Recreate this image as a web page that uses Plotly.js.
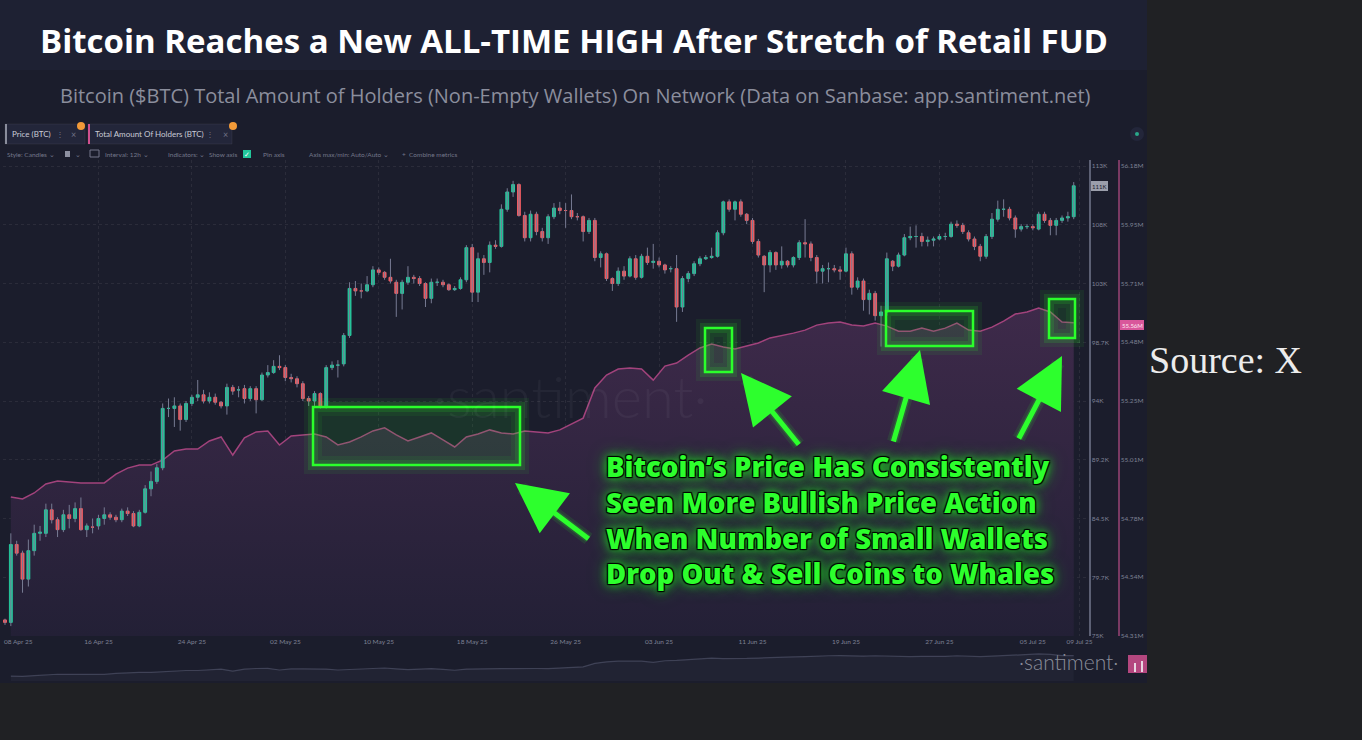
<!DOCTYPE html>
<html><head><meta charset="utf-8">
<script src="https://cdn.plot.ly/plotly-3.0.1.min.js"></script>
<style>html,body{margin:0;padding:0;background:#202124;overflow:hidden}#chart{width:1362px;height:740px}</style>
</head><body><div id="chart"></div>
<script>
// ---------------- DATA ----------------
const candleStart = '2025-04-08T00:00:00Z';   // 12h candles
const priceOpen = [76.3,76.1,82.4,81.7,79.6,81.9,83.3,83.3,85.2,84.4,83.6,84.8,84.5,85.3,83.6,83.8,83.9,84.5,84.8,84.6,84.4,85.1,84.9,83.9,85.0,86.9,87.5,88.6,93.4,93.4,93.6,92.5,93.8,94.3,94.5,94.0,94.3,93.9,93.6,95.1,94.9,95.0,94.2,95.0,94.1,96.1,96.3,96.8,96.7,95.9,95.8,95.4,94.2,94.0,94.6,93.6,96.7,96.9,97.0,99.3,103.1,102.9,102.9,103.4,104.6,104.4,104.0,103.6,102.7,103.6,104.0,103.9,103.5,102.3,103.6,103.6,103.4,103.0,103.1,103.8,106.4,102.8,105.5,105.2,106.6,106.5,109.5,110.9,111.5,109.0,107.2,109.1,107.7,107.2,108.9,109.6,109.4,109.4,108.9,108.9,107.7,108.6,105.6,105.9,103.9,103.5,104.5,104.1,105.5,104.0,105.7,105.2,105.3,105.0,104.7,104.7,101.6,103.9,104.3,105.1,105.5,105.6,105.7,107.6,110.1,109.5,110.1,109.1,108.6,106.9,105.7,105.0,106.0,105.0,105.3,105.0,105.6,106.8,106.7,105.6,104.5,104.7,104.7,104.6,104.5,105.9,103.2,103.7,102.2,102.7,100.9,101.2,105.3,104.9,105.8,107.2,107.3,107.3,106.9,107.0,107.1,107.3,107.3,108.3,108.2,107.6,107.1,106.5,105.7,107.3,108.7,109.5,109.5,108.8,107.9,108.1,108.1,107.9,109.1,108.6,108.2,108.6,108.8,108.9];
const priceHigh = [76.4,83.3,82.7,81.9,82.8,84.0,83.9,85.7,85.7,84.6,85.2,85.6,85.8,86.2,84.1,84.5,84.8,85.4,85.0,84.8,85.3,85.4,85.1,85.2,87.2,88.3,88.9,93.8,94.2,94.3,93.8,94.0,94.5,95.7,94.9,94.7,94.6,94.0,95.4,95.3,95.2,95.3,95.2,95.2,96.3,96.9,97.3,97.7,96.9,96.2,96.0,95.6,94.4,94.8,94.7,96.9,97.2,97.3,99.5,103.6,103.7,103.5,104.1,104.9,104.8,104.5,105.5,103.8,103.8,104.9,104.2,104.1,103.6,103.9,103.9,103.8,103.5,103.3,104.0,106.6,106.7,106.0,105.8,106.9,107.0,109.9,111.2,111.8,111.6,109.3,109.4,109.3,108.0,109.1,110.0,110.1,110.0,110.7,109.2,109.0,108.8,108.8,106.1,106.0,104.0,104.8,104.9,105.7,105.8,105.9,106.4,106.7,105.6,105.1,104.9,105.8,104.1,104.5,105.3,105.7,105.8,106.4,107.8,110.2,110.3,110.2,110.3,109.2,108.8,107.1,105.8,106.2,106.1,106.5,105.4,105.7,107.0,108.7,106.9,105.8,105.0,105.2,105.0,104.9,106.4,106.1,104.0,103.9,103.0,102.9,101.7,106.0,105.4,106.0,107.5,108.1,108.2,107.6,107.3,107.3,107.5,107.6,108.5,108.6,108.4,107.8,107.3,106.7,107.5,109.2,110.2,110.3,109.7,109.0,108.3,108.3,108.3,109.3,109.3,108.8,108.8,109.0,109.3,111.7];
const priceLow = [75.9,75.8,81.5,78.5,79.0,81.5,82.7,83.0,84.1,83.0,83.4,83.7,84.2,83.5,83.0,83.3,83.6,84.0,84.4,84.2,84.2,84.7,83.8,83.8,84.9,86.3,87.3,88.4,92.7,91.9,91.6,92.3,93.6,94.0,93.8,93.8,93.7,93.4,92.9,94.5,94.3,93.8,94.0,93.0,94.0,95.9,96.2,96.5,95.6,95.5,95.1,94.0,93.6,93.6,93.4,93.4,96.5,95.9,96.8,99.1,102.5,102.3,102.8,103.2,104.2,103.8,103.5,100.8,101.4,103.4,103.5,103.3,101.6,101.9,103.3,103.2,102.9,102.9,103.0,103.6,102.0,102.0,104.2,104.4,106.3,106.4,109.3,110.5,108.9,106.9,106.9,107.4,106.9,106.7,108.7,109.1,108.0,108.7,108.6,106.9,107.5,105.3,104.8,103.7,102.9,103.3,103.8,104.0,103.8,103.9,105.0,104.7,104.8,104.3,104.4,100.4,101.2,103.6,104.1,104.9,105.4,105.5,105.6,107.4,109.3,108.6,108.9,108.3,106.7,105.6,102.8,104.4,104.6,104.7,104.8,104.8,105.4,105.6,105.3,103.5,103.5,103.6,104.4,103.8,104.4,102.6,103.0,101.3,101.0,100.5,98.4,100.9,104.5,104.8,105.7,107.0,106.4,106.5,106.5,106.5,107.0,107.0,107.2,108.0,107.5,106.9,106.2,105.3,105.5,107.1,108.5,108.9,108.6,107.2,107.7,107.9,107.8,107.8,108.4,107.4,107.4,108.4,108.5,108.7];
const priceClose = [76.1,82.4,81.7,79.6,81.9,83.3,83.4,85.2,84.4,83.6,84.8,84.5,85.3,83.6,83.9,83.8,84.5,84.8,84.6,84.4,85.1,84.9,83.9,85.0,86.9,87.5,88.6,93.4,93.4,93.6,92.5,93.8,94.3,94.5,94.0,94.3,93.9,93.6,95.1,94.8,94.9,94.2,95.0,94.1,96.1,96.3,96.8,96.7,95.9,95.8,95.4,94.2,94.0,94.6,93.6,96.7,96.9,96.9,99.3,103.1,102.9,102.9,103.4,104.6,104.4,104.0,103.7,102.7,103.6,104.0,103.9,103.5,102.3,103.6,103.6,103.4,103.0,103.1,103.8,106.4,102.8,105.5,105.2,106.6,106.5,109.5,110.9,111.5,109.0,107.2,109.1,107.7,107.2,108.9,109.6,109.4,109.4,108.9,108.9,107.7,108.6,105.6,105.9,103.9,103.5,104.5,104.1,105.5,104.0,105.7,105.2,105.3,105.0,104.6,104.7,101.6,103.9,104.3,105.1,105.5,105.6,105.7,107.6,110.1,109.5,110.1,109.1,108.6,106.9,105.8,105.0,106.0,105.0,105.3,105.0,105.6,106.8,106.7,105.6,104.5,104.7,104.7,104.6,104.5,105.9,103.2,103.7,102.2,102.7,100.9,101.2,105.5,104.9,105.8,107.2,107.3,107.3,106.9,107.0,107.1,107.3,107.3,108.3,108.2,107.7,107.1,106.5,105.7,107.3,108.7,109.5,109.5,108.8,107.9,108.1,108.1,108.0,109.1,108.6,108.2,108.6,108.8,108.9,111.4];

const holdersStart = '2025-04-08T12:00:00Z';  // daily
const holdersM = [54.863,54.855,54.879,54.915,54.927,54.923,54.919,54.919,54.919,54.954,54.978,54.990,54.990,55.010,55.046,55.054,55.054,55.086,55.102,55.030,55.098,55.122,55.126,55.070,55.106,55.110,55.114,55.102,55.070,55.082,55.102,55.126,55.138,55.110,55.086,55.102,55.118,55.090,55.062,55.102,55.114,55.130,55.118,55.114,55.126,55.122,55.118,55.130,55.153,55.177,55.297,55.348,55.372,55.376,55.372,55.328,55.384,55.396,55.428,55.456,55.472,55.460,55.452,55.464,55.476,55.496,55.504,55.515,55.527,55.547,55.555,55.559,55.547,55.543,55.555,55.543,55.523,55.523,55.535,55.523,55.535,55.555,55.527,55.523,55.539,55.563,55.591,55.599,55.615,55.599,55.559,55.556];

const priceTickVals = [75,79.75,84.5,89.25,94,98.75,103.5,108.25,113];
const priceTickText = ['75K','79.7K','84.5K','89.2K','94K','98.7K','103K','108K','113K'];
const holderTickVals = [54.31,54.544,54.778,55.011,55.245,55.479,55.712,55.946,56.18];
const holderTickText = ['54.31M','54.54M','54.78M','55.01M','55.25M','55.48M','55.71M','55.95M','56.18M'];
const dateTickVals = ['2025-04-16','2025-04-24','2025-05-02','2025-05-10','2025-05-18','2025-05-26','2025-06-03','2025-06-11','2025-06-19','2025-06-27','2025-07-05','2025-07-09'];
const dateTickText = ['16 Apr 25','24 Apr 25','02 May 25','10 May 25','18 May 25','26 May 25','03 Jun 25','11 Jun 25','19 Jun 25','27 Jun 25','05 Jul 25','09 Jul 25'];
const firstDateLabel = '08 Apr 25';
const lastPriceLabel = '111K';
const lastHoldersLabel = '55.56M';

// ---------------- HELPERS ----------------
const H12 = 12*3600*1000, DAY = 24*3600*1000;
const fmt = ms => new Date(ms).toISOString().slice(0,19).replace('T',' ');
const c0 = Date.parse(candleStart), h0 = Date.parse(holdersStart);
const candleX = priceOpen.map((_,i)=>fmt(c0+i*H12));
const holdersX = holdersM.map((_,i)=>fmt(h0+i*DAY));

const W=1362,H=740, PL=3, PR=1089, PT=160, PB=683, MAINB=636;
const px = x => (x-PL)/(PR-PL);
const py = y => (PB-y)/(PB-PT);
const pxSpan = 5.84;
const msAt = p => c0 + (p-5)/pxSpan*H12;

const wx=[], wy=[];
for(let i=0;i<priceOpen.length;i++){ wx.push(candleX[i],candleX[i],null); wy.push(priceLow[i],priceHigh[i],null); }
const bodyHi = priceOpen.map((o,i)=>Math.max(o,priceClose[i]));
const bodyLo = priceOpen.map((o,i)=>Math.min(o,priceClose[i]));

const GREEN='#24c79c', RED='#f05d63';

const traces = [
  { type:'scatter', mode:'lines', x:holdersX, y:holdersM, xaxis:'x', yaxis:'y',
    line:{color:'#a2437c', width:1.5, shape:'linear'}, fill:'tozeroy',
    fillgradient:{type:'vertical', colorscale:[[0,'#232036'],[1,'#3e2a4a']], start:54.31, stop:55.62},
    hoverinfo:'skip' },
  { type:'scatter', mode:'lines', x:wx, y:wy, xaxis:'x', yaxis:'y2',
    line:{color:'#777b93', width:1}, hoverinfo:'skip', connectgaps:false },
  { type:'candlestick', x:candleX, open:priceOpen, close:priceClose, high:bodyHi, low:bodyLo,
    xaxis:'x', yaxis:'y2', whiskerwidth:0,
    increasing:{line:{color:GREEN,width:1}, fillcolor:GREEN},
    decreasing:{line:{color:RED,width:1}, fillcolor:RED},
    hoverinfo:'skip' },
  { type:'scatter', mode:'lines', x:holdersX, y:holdersM, xaxis:'x2', yaxis:'y3',
    line:{color:'rgba(150,155,185,0.28)', width:1.2}, fill:'tozeroy', fillcolor:'rgba(120,125,160,0.07)',
    hoverinfo:'skip' }
];

const shapes = [];
const annotations = [];
const rect = (x0,y0,x1,y1,o)=>shapes.push(Object.assign({type:'rect',xref:'paper',yref:'paper',x0:px(x0),x1:px(x1),y0:py(y1),y1:py(y0),line:{width:0}},o));
const line = (x0,y0,x1,y1,o)=>shapes.push(Object.assign({type:'line',xref:'paper',yref:'paper',x0:px(x0),x1:px(x1),y0:py(y0),y1:py(y1)},o));
const circ = (cx,cy,r,o)=>shapes.push(Object.assign({type:'circle',xref:'paper',yref:'paper',x0:px(cx-r),x1:px(cx+r),y0:py(cy+r),y1:py(cy-r),line:{width:0}},o));
const txt = (x,y,text,size,color,xa,o)=>annotations.push(Object.assign({xref:'paper',yref:'paper',x:px(x),y:py(y),text,showarrow:false,xanchor:xa||'left',yanchor:'middle',font:Object.assign({family:'Lato, sans-serif',size,color},(o&&o.font)||{})},o&&o.extra||{}));

// panel backgrounds
rect(0,0,1147,683,{fillcolor:'#1b1d2c',layer:'below'});
rect(0,0,1147,70,{fillcolor:'#1e2133',layer:'below'});

// title + subtitle
txt(574,40,'Bitcoin Reaches a New ALL-TIME HIGH After Stretch of Retail FUD',33,'#ffffff','center',{font:{family:'Open Sans, sans-serif',weight:700}});
txt(575,96,'Bitcoin ($BTC) Total Amount of Holders (Non-Empty Wallets) On Network (Data on Sanbase: app.santiment.net)',20,'#8b8e9d','center',{font:{family:'Open Sans, sans-serif'}});

// toolbar tabs
rect(5,124,85,144,{fillcolor:'#23263a',line:{color:'rgba(255,255,255,0.06)',width:1},layer:'below'});
line(6,124,6,144,{line:{color:'#8a8d9c',width:2}});
txt(10,134,'Price (BTC)',8,'#c9cbd6');
txt(60,134,'⋮',8,'#6f7285','center');
txt(73,134,'×',9,'#6f7285','center');
circ(81,126,4,{fillcolor:'#f29a38'});
rect(88,124,232,144,{fillcolor:'#23263a',line:{color:'rgba(255,255,255,0.06)',width:1},layer:'below'});
line(89,124,89,144,{line:{color:'#d0508f',width:2}});
txt(93,134,'Total Amount Of Holders (BTC)',8,'#c9cbd6');
txt(210,134,'⋮',8,'#6f7285','center');
txt(225,134,'×',9,'#6f7285','center');
circ(233,126,4,{fillcolor:'#f29a38'});
circ(1137,134,7,{fillcolor:'#23263a'});
circ(1137,134,2,{fillcolor:'#2aa88a'});

// toolbar row 2
const tb = '#74778a';
txt(5,154,'Style: Candles ⌄',6.5,tb);
rect(65,151,70,157,{fillcolor:'#8d90a0'});
txt(73,154,'⌄',6.5,tb);
rect(90,150,99,157,{fillcolor:'rgba(0,0,0,0)',line:{color:tb,width:1}});
txt(103,154,'Interval: 12h ⌄',6.5,tb);
txt(166,154,'Indicators: ⌄',6.5,tb);
txt(207,154,'Show axis',6.5,tb);
rect(243,150,251,158,{fillcolor:'#22c79b'});
txt(247,154,'✓',7,'#ffffff','center');
txt(261,154,'Pin axis',6.5,tb);
txt(307,154,'Axis max/min: Auto/Auto ⌄',6.5,tb);
txt(400,154,'+  Combine metrics',6.5,tb);

txt(18,641,firstDateLabel,6.5,'#7e8194','center');

// watermark + logo
txt(570,395,'·santiment·',58,'rgba(255,255,255,0.045)','center',{font:{weight:300}});
txt(1068,661,'·santiment·',21,'#8a8d9a','center',{font:{weight:300}});
rect(1128,655,1147,673,{fillcolor:'#b4477f'});
rect(1134,663,1136,672,{fillcolor:'#e9d6e2'});
rect(1141,661,1143,672,{fillcolor:'#e9d6e2'});

// last value labels
rect(1091,181,1108,191,{fillcolor:'#9b9eab'});
txt(1099.5,186,lastPriceLabel,6,'#1b1d2c','center');
rect(1120,320,1144,330,{fillcolor:'#d9579b'});
txt(1132,325,lastHoldersLabel,6,'#ffe6f1','center');

// green highlight boxes with glow
const boxes = [[313,407,520,465],[705,328,732,372],[886,311,973,346],[1049,299,1075,338]];
boxes.forEach(b=>{
  rect(b[0],b[1],b[2],b[3],{fillcolor:'rgba(0,0,0,0)',line:{color:'rgba(40,255,40,0.07)',width:18},layer:'above'});
  rect(b[0],b[1],b[2],b[3],{fillcolor:'rgba(0,0,0,0)',line:{color:'rgba(40,255,40,0.14)',width:10},layer:'above'});
  rect(b[0],b[1],b[2],b[3],{fillcolor:'rgba(30,210,40,0.13)',line:{color:'#2bff2b',width:2.5},layer:'above'});
});

// arrows (tip, tail): glow shafts + solid arrow
const arrows = [[515,483,590,540],[741,373,800,446],[920,350,893,443],[1062,356,1018,440]];
arrows.forEach(a=>{
  const base = {xref:'paper',yref:'paper',x:px(a[0]),y:py(a[1]),ax:a[2]-a[0],ay:a[3]-a[1],axref:'pixel',ayref:'pixel',text:'',showarrow:true};
  annotations.push(Object.assign({},base,{arrowhead:0,arrowwidth:13,arrowcolor:'rgba(40,255,40,0.10)',standoff:8}));
  annotations.push(Object.assign({},base,{arrowhead:0,arrowwidth:8,arrowcolor:'rgba(40,255,40,0.18)',standoff:8}));
  annotations.push(Object.assign({},base,{arrowhead:2,arrowsize:2.0,arrowwidth:5,arrowcolor:'#2dff2d'}));
});

// main message
annotations.push({xref:'paper',yref:'paper',x:px(604),y:py(520),xanchor:'left',yanchor:'middle',align:'left',showarrow:false,
  text:'Bitcoin’s Price Has Consistently<br>Seen More Bullish Price Action<br>When Number of Small Wallets<br>Drop Out &amp; Sell Coins to Whales',
  font:{family:'Open Sans, sans-serif',size:27.5,weight:800,color:'#2dff2d',
    shadow:'1px 1px 1px #000, -1px -1px 1px #000, 1px -1px 1px #000, -1px 1px 1px #000, 0 0 10px #19ff19, 0 0 18px rgba(20,255,20,0.6)'}});

// source
txt(1147,360,'Source: X',38,'#ececec','left',{font:{family:'Liberation Serif, DejaVu Serif, serif'}});

const grid = 'rgba(255,255,255,0.07)';
const layout = {
  width:W, height:H, margin:{l:PL,r:W-PR,t:PT,b:H-PB,pad:0},
  paper_bgcolor:'#202124', plot_bgcolor:'rgba(0,0,0,0)', showlegend:false,
  font:{family:'Lato, sans-serif', color:'#7e8194'},
  xaxis:{type:'date', anchor:'y', range:[fmt(msAt(PL)),fmt(msAt(PR))], tickvals:dateTickVals, ticktext:dateTickText,
    tickfont:{size:6.5,color:'#7e8194'}, showgrid:true, gridcolor:grid, griddash:'dot', zeroline:false, showline:false,
    rangeslider:{visible:false}, fixedrange:true},
  yaxis:{domain:[(PB-MAINB)/(PB-PT),1], range:[54.31,56.18+6*1.87/470], side:'right', anchor:'free', position:1, shift:29,
    tickvals:holderTickVals, ticktext:holderTickText, tickfont:{size:6.5,color:'#7e8194'},
    showline:true, linecolor:'#7a3a63', linewidth:1.5, showgrid:false, zeroline:false, fixedrange:true},
  yaxis2:{overlaying:'y', side:'right', anchor:'x', range:[75,113+6*38/470],
    tickvals:priceTickVals, ticktext:priceTickText, tickfont:{size:6.5,color:'#7e8194'},
    showline:true, linecolor:'#5c6074', linewidth:1.5, showgrid:true, gridcolor:grid, griddash:'dot', zeroline:false, fixedrange:true},
  xaxis2:{anchor:'y3', domain:[0,1], range:[fmt(msAt(PL)),fmt(msAt(PR))], visible:false, fixedrange:true},
  yaxis3:{domain:[0.004,(PB-650)/(PB-PT)], range:[54.7,55.75], visible:false, fixedrange:true},
  shapes, annotations
};
Plotly.newPlot('chart', traces, layout, {staticPlot:true, displayModeBar:false});
</script>
</body></html>
